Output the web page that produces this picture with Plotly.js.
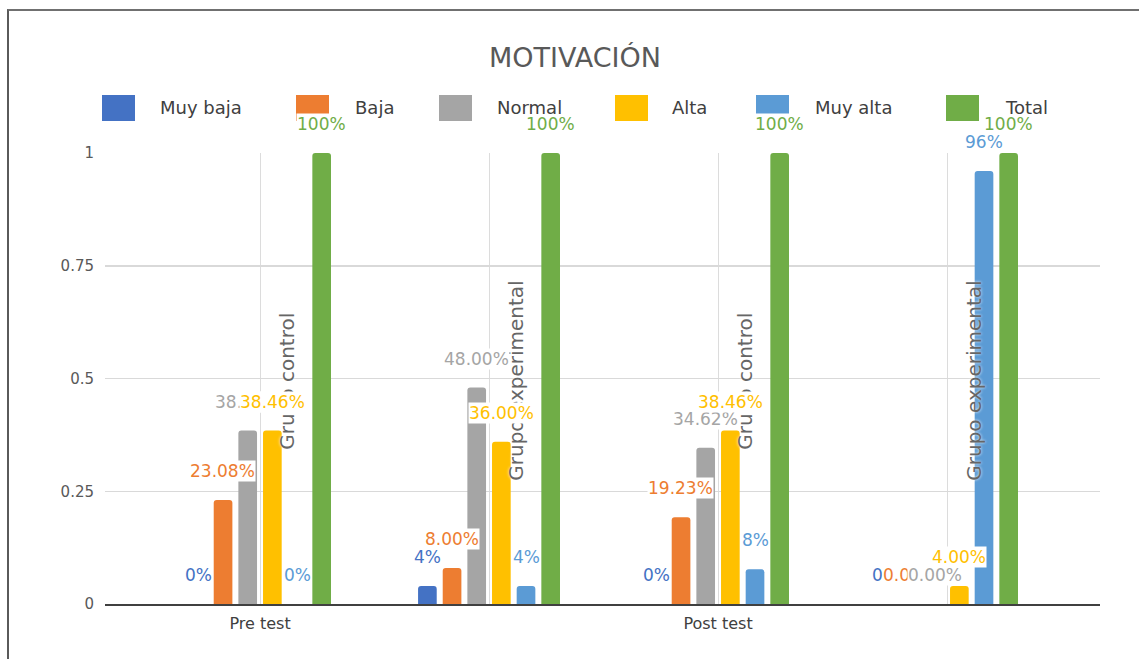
<!DOCTYPE html>
<html>
<head>
<meta charset="utf-8">
<script src="https://cdn.plot.ly/plotly-3.0.1.min.js"></script>
<style>
html,body{margin:0;padding:0;background:#fff;}
#chart{width:1139px;height:659px;position:absolute;left:0;top:0;}
#frame{position:absolute;left:7px;top:9px;width:1132px;height:650px;border-left:2px solid #5a5a5a;border-top:2px solid #707070;pointer-events:none;}
</style>
</head>
<body>
<div id="chart"></div>
<div id="frame"></div>
<script>
// ---- DATA ----
const tests = ["Pre test", "Pre test", "Post test", "Post test"];
const groups = ["Grupo control", "Grupo experimental", "Grupo control", "Grupo experimental"];
const seriesNames = ["Muy baja", "Baja", "Normal", "Alta", "Muy alta", "Total"];
const muyBaja = [0, 0.04, 0, 0];
const baja = [0.2308, 0.08, 0.1923, 0];
const normal = [0.3846, 0.48, 0.3462, 0];
const alta = [0.3846, 0.36, 0.3846, 0.04];
const muyAlta = [0, 0.04, 0.0769, 0.96];
const total = [1, 1, 1, 1];
const labelDecimals = [0, 2, 2, 2, 0, 0];

// ---- STYLE / LAYOUT CONSTANTS ----
const seriesValues = [muyBaja, baja, normal, alta, muyAlta, total];
const colors = ["#4472C4", "#ED7D31", "#A5A5A5", "#FFC000", "#5B9BD5", "#70AD47"];
const FONT = "DejaVu Sans, Verdana, sans-serif";
const W = 1139, H = 659;
const M = {l: 105, r: 39, t: 153, b: 55};
const plotW = W - M.l - M.r, plotH = H - M.t - M.b;
const px2x = p => (p - M.l) / plotW;
const px2y = p => (H - M.b - p) / plotH;
const legendSwatchX = [102, 296, 439, 615, 756, 946];
const legendTextX = [158, 353, 495, 670, 813, 1003];
const legendY = 108;
const barStep = 24.7;

const cats = tests.map((t, i) => t + " / " + groups[i]);

const traces = seriesNames.map((name, s) => ({
  type: "bar",
  name: name,
  x: cats,
  y: seriesValues[s],
  marker: {color: colors[s]},
  showlegend: false,
  hovertemplate: name + ": %{y:.2%}<extra></extra>"
}));

const annotations = [];
const shapes = [];

// rotated group labels (drawn first, beneath data labels)
groups.forEach((g, j) => {
  annotations.push({
    x: cats[j], y: 0.494, xref: "x", yref: "y",
    xshift: 27.5, text: g, textangle: -90, showarrow: false,
    xanchor: "center", yanchor: "middle",
    font: {family: FONT, size: 20, color: "#666666", shadow: "0px 0px 3px #ffffff"}
  });
});

// data labels
seriesValues.forEach((vals, s) => {
  vals.forEach((v, j) => {
    annotations.push({
      x: cats[j], y: v, xref: "x", yref: "y",
      xshift: (s - 2.5) * barStep, yshift: 29,
      text: (v * 100).toFixed(labelDecimals[s]) + "%",
      showarrow: false, xanchor: "center", yanchor: "middle",
      bgcolor: "#ffffff", borderpad: 0,
      font: {family: FONT, size: 17, color: colors[s]}
    });
  });
});

// custom legend
seriesNames.forEach((name, s) => {
  shapes.push({
    type: "rect", xref: "paper", yref: "paper",
    x0: px2x(legendSwatchX[s]), x1: px2x(legendSwatchX[s] + 33),
    y0: px2y(legendY + 13), y1: px2y(legendY - 13),
    fillcolor: colors[s], line: {width: 0}
  });
  annotations.push({
    xref: "paper", yref: "paper",
    x: px2x(legendTextX[s]), y: px2y(legendY),
    text: name, showarrow: false, xanchor: "left", yanchor: "middle",
    font: {family: FONT, size: 18, color: "#404040"}
  });
});

const layout = {
  width: W, height: H,
  margin: M,
  paper_bgcolor: "#ffffff", plot_bgcolor: "#ffffff",
  title: {
    text: "MOTIVACIÓN",
    font: {family: FONT, size: 27, color: "#595959"},
    x: 575 / W, xanchor: "center", xref: "container",
    y: 1 - 58 / H, yanchor: "middle", yref: "container"
  },
  barmode: "group",
  bargap: 0.354,
  bargroupgap: 0.243,
  barcornerradius: 3,
  xaxis: {
    type: "category",
    range: [-0.677, 3.668],
    tickvals: cats,
    ticktext: cats.map((c, i) => (i === 0 || tests[i] !== tests[i - 1]) ? tests[i] : ""),
    showgrid: true, gridcolor: "#dcdcdc", gridwidth: 1,
    ticks: "", showline: true, linecolor: "#404040", linewidth: 2,
    zeroline: false,
    tickfont: {family: FONT, size: 16, color: "#404040"},
    ticklabelstandoff: 4,
    fixedrange: true
  },
  yaxis: {
    range: [0, 1],
    tickvals: [0, 0.25, 0.5, 0.75, 1],
    ticktext: ["0", "0.25", "0.5", "0.75", "1"],
    showgrid: true, gridcolor: "#d9d9d9", gridwidth: 1.5,
    zeroline: false, showline: false, ticks: "",
    tickfont: {family: FONT, size: 15, color: "#595959"},
    ticklabelstandoff: 10,
    fixedrange: true
  },
  annotations: annotations,
  shapes: shapes,
  showlegend: false
};

Plotly.newPlot("chart", traces, layout, {displayModeBar: false, staticPlot: true});
</script>
</body>
</html>
